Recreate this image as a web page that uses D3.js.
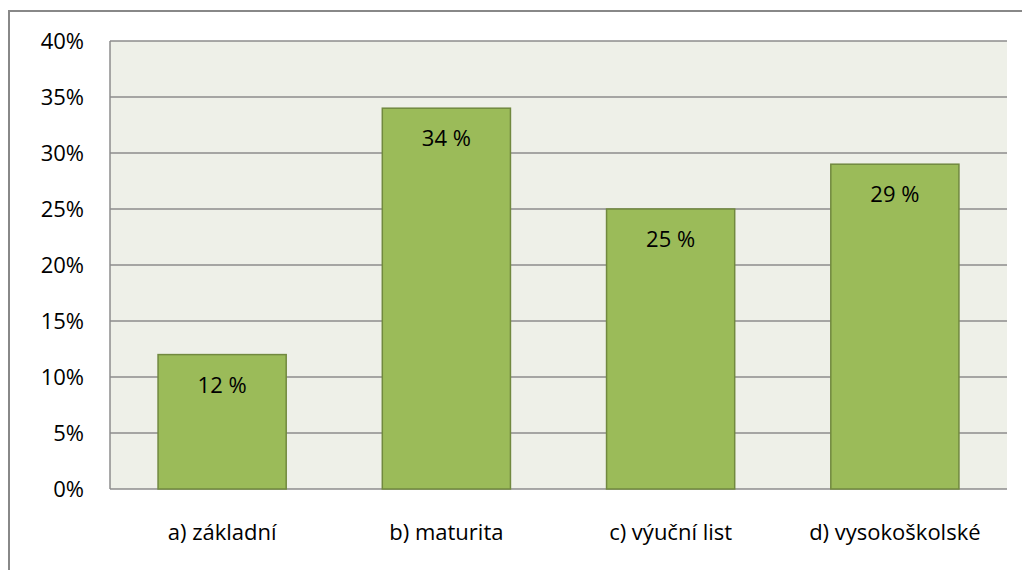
<!DOCTYPE html>
<html>
<head>
<meta charset="utf-8">
<script src="https://cdn.jsdelivr.net/npm/d3@7"></script>
<style>
  body { margin: 0; background: #fff; }
  text { font-family: "Open Sans", "DejaVu Sans", sans-serif; fill: #000; }
</style>
</head>
<body>
<svg id="chart" width="1022" height="570"></svg>
<script>
var categories = ["a) základní", "b) maturita", "c) výuční list", "d) vysokoškolské"];
var values = [12, 34, 25, 29];
var yTicks = [0, 5, 10, 15, 20, 25, 30, 35, 40];

var width = 1022, height = 570;
var margin = {left: 110, right: 15, top: 41, bottom: 81};

var svg = d3.select("#chart");

// outer frame
svg.append("rect")
  .attr("x", 9).attr("y", 11)
  .attr("width", 1030).attr("height", 580)
  .attr("fill", "none")
  .attr("stroke", "#888")
  .attr("stroke-width", 2);

var x = d3.scaleBand()
  .domain(categories)
  .range([margin.left, width - margin.right])
  .paddingInner(0.75 / 1.75)
  .paddingOuter(0.75 / 1.75 / 2);

var y = d3.scaleLinear()
  .domain([0, 40])
  .range([height - margin.bottom, margin.top]);

// plot background
svg.append("rect")
  .attr("x", margin.left).attr("y", margin.top)
  .attr("width", width - margin.right - margin.left)
  .attr("height", y(0) - margin.top)
  .attr("fill", "#eef0e8");

// gridlines
svg.append("g")
  .selectAll("line")
  .data(yTicks)
  .enter()
  .append("line")
  .attr("x1", margin.left)
  .attr("x2", width - margin.right)
  .attr("y1", function(d) { return y(d); })
  .attr("y2", function(d) { return y(d); })
  .attr("stroke", "#8c8c8c")
  .attr("stroke-width", 1.5);

// y axis line
svg.append("line")
  .attr("x1", margin.left).attr("x2", margin.left)
  .attr("y1", margin.top).attr("y2", y(0))
  .attr("stroke", "#8c8c8c")
  .attr("stroke-width", 1.5);

// y tick labels
svg.append("g")
  .selectAll("text")
  .data(yTicks)
  .enter()
  .append("text")
  .attr("x", 84)
  .attr("y", function(d) { return y(d); })
  .attr("dy", "0.35em")
  .attr("text-anchor", "end")
  .style("font-size", "22px")
  .text(function(d) { return d + "%"; });

// bars
svg.append("g")
  .selectAll("rect")
  .data(values)
  .enter()
  .append("rect")
  .attr("x", function(d, i) { return x(categories[i]); })
  .attr("y", function(d) { return y(d); })
  .attr("width", x.bandwidth())
  .attr("height", function(d) { return y(0) - y(d); })
  .attr("fill", "#9bbb59")
  .attr("stroke", "#71893f")
  .attr("stroke-width", 1.5);

// value labels
svg.append("g")
  .selectAll("text")
  .data(values)
  .enter()
  .append("text")
  .attr("x", function(d, i) { return x(categories[i]) + x.bandwidth() / 2; })
  .attr("y", function(d) { return y(d) + 38; })
  .attr("text-anchor", "middle")
  .style("font-size", "22px")
  .text(function(d) { return d + " %"; });

// category labels
svg.append("g")
  .selectAll("text")
  .data(categories)
  .enter()
  .append("text")
  .attr("x", function(d) { return x(d) + x.bandwidth() / 2; })
  .attr("y", 540)
  .attr("text-anchor", "middle")
  .style("font-size", "22px")
  .text(function(d) { return d; });
</script>
</body>
</html>
